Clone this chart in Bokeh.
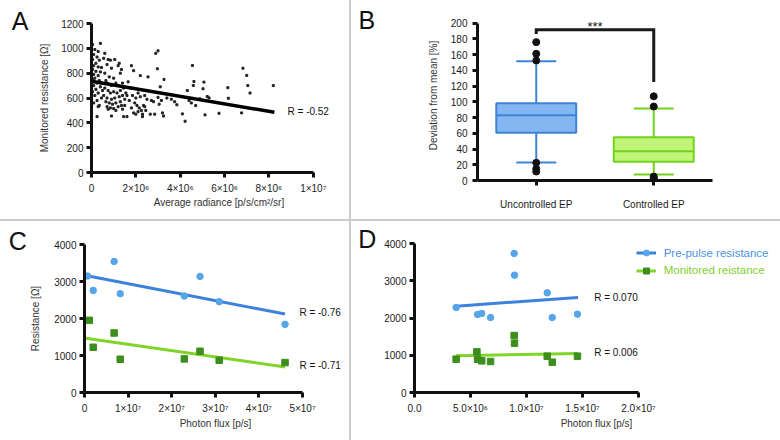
from bokeh.plotting import figure
from bokeh.models import Range1d, FixedTicker, Label, Legend, LegendItem, Spacer, Div
from bokeh.layouts import row, column
from bokeh.embed import file_html
from bokeh.resources import INLINE

FONT = "Liberation Sans"

# ---------------- Panel A data (radiance in units of 1e6 p/s/cm2/sr) ----------------
a_radiance_e6 = [0.05, 0.40, 0.15, 0.30, 0.10, 0.25, 0.05, 0.35, 0.20, 0.10, 0.30, 0.45, 0.05, 0.20,
                 0.40, 0.10, 0.30, 0.15, 0.05, 0.35, 0.25, 0.10, 0.40, 0.20, 0.05, 0.30, 0.15, 0.45,
                 0.25, 0.10, 0.35, 0.30, 0.25, 0.50, 0.45,
                 0.60, 0.55, 0.75, 0.85, 0.70, 0.90, 0.60, 0.80, 1.00, 1.05, 1.20, 1.25, 1.35, 1.30,
                 0.65, 0.70, 0.90, 1.10, 1.20, 1.40, 0.60, 0.75, 0.85, 1.00, 1.15, 1.30, 1.45, 0.55,
                 0.70, 0.90, 1.05, 1.25, 1.40, 0.65, 0.80, 0.95, 1.10, 1.30, 1.50, 0.70, 0.85, 1.00,
                 1.20, 1.35, 0.75, 1.10, 1.40, 0.90, 1.45, 1.55, 1.50, 1.60,
                 1.80, 1.90, 1.65, 1.75, 1.85, 2.00, 2.10, 2.20, 1.70, 1.95, 2.05, 2.15, 2.25, 2.35,
                 1.80, 1.90, 2.00, 2.10, 2.30, 2.45, 2.20, 2.55, 2.40, 2.50, 2.30, 1.60, 2.40,
                 2.90, 3.00, 2.97, 2.70, 2.80, 2.65, 2.85, 3.10, 3.27, 3.15, 3.20, 3.25, 3.05, 3.40,
                 3.60, 3.75, 3.85, 3.00,
                 4.10, 4.22, 4.32, 4.40, 4.55, 4.62, 4.59, 4.70, 4.90, 5.03, 5.07, 5.12, 5.22, 5.30,
                 5.75, 6.15, 6.17, 6.77, 6.83, 7.00, 7.05, 7.15, 8.20, 4.50]
a_resistance = [1030, 1040, 990, 975, 950, 930, 910, 905, 880, 860, 850, 845, 830, 815,
                810, 790, 780, 760, 745, 740, 720, 700, 690, 670, 650, 640, 620, 600,
                580, 560, 540, 530, 450, 660, 720,
                960, 920, 910, 905, 870, 840, 800, 770, 760, 910, 860, 880, 830, 800,
                740, 720, 700, 720, 700, 720, 680, 660, 640, 650, 640, 660, 680, 620,
                600, 590, 600, 610, 620, 570, 560, 550, 560, 570, 590, 530, 520, 515,
                530, 540, 510, 500, 510, 455, 450, 640, 540, 620,
                860, 820, 730, 680, 620, 600, 640, 610, 580, 560, 540, 520, 500, 540,
                520, 480, 470, 490, 470, 500, 780, 770, 620, 590, 450, 450, 530,
                960, 980, 835, 580, 570, 470, 470, 690, 750, 580, 480, 455, 550, 600,
                590, 570, 545, 605,
                472, 413, 660, 580, 862, 733, 701, 539, 593, 674, 728, 464, 612, 601,
                477, 683, 598, 480, 840, 782, 700, 640, 700, 560]
a_fit_radiance_e6 = [0.0, 8.25]
a_fit_resistance = [735, 485]
a_r_text = "R = -0.52"
a_xticks = [0, 2, 4, 6, 8, 10]
a_xlabels = ["0", "2×10⁶", "4×10⁶", "6×10⁶", "8×10⁶", "1×10⁷"]
a_yticks = [0, 200, 400, 600, 800, 1000, 1200]

# ---------------- Panel B data ----------------
b_groups = ["Uncontrolled EP", "Controlled EP"]
b_pos = [0.5, 1.5]
b_q1 = [60.6, 23.7]
b_median = [83.0, 37.3]
b_q3 = [98.3, 55.0]
b_whisk_lo = [22.9, 7.6]
b_whisk_hi = [151.5, 91.5]
b_out_pos = [0.5, 0.5, 0.5, 0.5, 0.5, 0.5, 1.5, 1.5, 1.5, 1.5]
b_out_value = [175.8, 161.0, 152.5, 22.5, 14.8, 11.4, 107.0, 94.0, 5.0, 3.0]
b_fill = ["#84b6f0", "#c0f57a"]
b_edge = ["#3d84d8", "#72d21c"]
b_yticks = [0, 20, 40, 60, 80, 100, 120, 140, 160, 180, 200]
b_bracket_y = [186, 191.5, 191.5, 125]

# ---------------- Panel C data (flux in units of 1e7 p/s) ----------------
c_flux_pre_e7 = [0.07, 0.20, 0.68, 0.82, 2.29, 2.65, 3.09, 4.60]
c_prepulse = [3146, 2760, 3542, 2670, 2607, 3137, 2454, 1843]
c_flux_mon_e7 = [0.11, 0.20, 0.68, 0.82, 2.29, 2.65, 3.09, 4.60]
c_monitored = [1950, 1222, 1609, 899, 908, 1115, 872, 809]
c_fit_flux_e7 = [0.03, 4.60]
c_fit_prepulse = [3160, 2121]
c_fit_monitored = [1465, 692]
c_r_texts = ["R = -0.76", "R = -0.71"]
c_r_y = [2174, 717]
c_xticks = [0, 1, 2, 3, 4, 5]
c_xlabels = ["0", "1×10⁷", "2×10⁷", "3×10⁷", "4×10⁷", "5×10⁷"]
res_yticks = [0, 1000, 2000, 3000, 4000]

# ---------------- Panel D data (flux in units of 1e6 p/s) ----------------
d_flux_pre_e6 = [3.72, 5.63, 6.00, 6.79, 8.90, 8.93, 11.85, 12.30, 14.55]
d_prepulse = [2282, 2094, 2121, 2013, 3732, 3150, 2676, 2013, 2103]
d_flux_mon_e6 = [3.72, 5.57, 5.63, 6.00, 6.79, 8.90, 8.93, 11.85, 12.30, 14.55]
d_monitored = [895, 1092, 895, 850, 832, 1530, 1324, 975, 814, 975]
d_fit_flux_e6 = [3.72, 14.60]
d_fit_prepulse = [2318, 2550]
d_fit_monitored = [984, 1047]
d_r_texts = ["R = 0.070", "R = 0.006"]
d_r_y = [2550, 1063]
d_xticks = [0, 5, 10, 15, 20]
d_xlabels = ["0.0", "5.0×10⁶", "1.0×10⁷", "1.5×10⁷", "2.0×10⁷"]
legend_labels = ["Pre-pulse resistance", "Monitored reistance"]

BLUE_LINE = "#3b82db"
BLUE_PT = "#56a4ea"
GREEN_LINE = "#80d42a"
GREEN_PT = "#3e8e1e"
BLUE_TXT = "#4a92e4"
GREEN_TXT = "#7fcf2e"
AXIS = "#111111"


def make_fig(w, h, left, right, top, bottom, xr, yr):
    p = figure(width=w, height=h, x_range=xr, y_range=yr, output_backend="svg",
               toolbar_location=None, min_border_left=left, min_border_right=right,
               min_border_top=top, min_border_bottom=bottom)
    p.frame_align = False
    p.xgrid.visible = False
    p.ygrid.visible = False
    p.outline_line_color = None
    p.background_fill_color = "white"
    p.border_fill_color = "white"
    for ax in list(p.xaxis) + list(p.yaxis):
        ax.axis_line_width = 3
        ax.axis_line_color = AXIS
        ax.major_tick_line_width = 3
        ax.major_tick_line_color = AXIS
        ax.major_tick_out = 5
        ax.major_tick_in = 0
        ax.minor_tick_line_color = None
        ax.major_label_text_font = FONT
        ax.major_label_text_font_size = "10px"
        ax.major_label_text_color = "#1a1a1a"
        ax.axis_label_text_font = FONT
        ax.axis_label_text_font_size = "10px"
        ax.axis_label_text_font_style = "normal"
        ax.axis_label_text_color = "#333333"
    return p


def add_text(p, **kw):
    kw.setdefault("text_font", FONT)
    kw.setdefault("text_color", "#111111")
    p.add_layout(Label(**kw))


def letter_div(letter, w, h, left, top):
    html = ('<div style="display:block; margin:0; padding:0; position:relative; '
            f'left:{left}px; top:{top}px; font-family:\'{FONT}\'; font-size:25px; '
            f'line-height:25px; color:#111111;">{letter}</div>')
    return Div(text=html, width=w, height=h, styles={"margin": "0", "padding": "0"})


# ---------------- Panel A ----------------
pA = make_fig(319, 219, 61, 3, 23, 47, Range1d(0, 11.5), Range1d(0, 1200))
pA.xaxis.ticker = FixedTicker(ticks=a_xticks)
pA.xaxis.bounds = (0, 10)
pA.xaxis.major_label_overrides = dict(zip(a_xticks, a_xlabels))
pA.yaxis.ticker = FixedTicker(ticks=a_yticks)
pA.xaxis.axis_label = "Average radiance [p/s/cm²/sr]"
pA.yaxis.axis_label = "Monitored resistance [Ω]"
pA.xaxis.major_label_standoff = 5
pA.xaxis.axis_label_standoff = 0
pA.yaxis.major_label_standoff = 3
pA.yaxis.axis_label_standoff = 8
pA.scatter(a_radiance_e6, a_resistance, marker="square", size=2, color="#222222")
pA.line(a_fit_radiance_e6, a_fit_resistance, line_width=3.5, color="#000000")
add_text(pA, x=8.84, y=491, text=a_r_text, text_font_size="10px", text_baseline="middle")

# ---------------- Panel B ----------------
pB = make_fig(395, 219, 92, 68, 10, 39, Range1d(0, 2), Range1d(0, 216))
pB.xaxis.ticker = FixedTicker(ticks=b_pos)
pB.xaxis.major_label_overrides = dict(zip(b_pos, b_groups))
pB.xaxis.major_label_standoff = 13
pB.yaxis.ticker = FixedTicker(ticks=b_yticks)
pB.yaxis.bounds = (0, 200)
pB.yaxis.axis_label = "Deviation from mean [%]"
pB.yaxis.major_label_standoff = 5
pB.yaxis.axis_label_standoff = 9
for i in range(2):
    c = b_pos[i]
    pB.segment([c, c], [b_q3[i], b_q1[i]], [c, c], [b_whisk_hi[i], b_whisk_lo[i]],
               line_color=b_edge[i], line_width=2)
    pB.segment([c - 0.17, c - 0.17], [b_whisk_hi[i], b_whisk_lo[i]],
               [c + 0.17, c + 0.17], [b_whisk_hi[i], b_whisk_lo[i]],
               line_color=b_edge[i], line_width=2)
    pB.vbar(x=[c], width=0.68, bottom=[b_q1[i]], top=[b_q3[i]], fill_color=b_fill[i],
            line_color=b_edge[i], line_width=2)
    pB.segment([c - 0.34], [b_median[i]], [c + 0.34], [b_median[i]],
               line_color=b_edge[i], line_width=2)
pB.scatter(b_out_pos, b_out_value, size=7, color="#111111")
pB.line([b_pos[0], b_pos[0], b_pos[1], b_pos[1]], b_bracket_y, line_width=3,
        color="#1a1a1a", line_join="miter")
add_text(pB, x=1.0, y=196, text="***", text_font_size="13px", text_align="center",
         text_baseline="alphabetic")

# ---------------- Panel C ----------------
pC = make_fig(322, 219, 52, 3, 23, 48, Range1d(0, 6.01), Range1d(0, 4000))
pC.xaxis.ticker = FixedTicker(ticks=c_xticks)
pC.xaxis.bounds = (0, 5)
pC.xaxis.major_label_overrides = dict(zip(c_xticks, c_xlabels))
pC.yaxis.ticker = FixedTicker(ticks=res_yticks)
pC.xaxis.axis_label = "Photon flux [p/s]"
pC.yaxis.axis_label = "Resistance [Ω]"
pC.xaxis.major_label_standoff = 5
pC.xaxis.axis_label_standoff = 1
pC.yaxis.major_label_standoff = 3
pC.yaxis.axis_label_standoff = 10
pC.line(c_fit_flux_e7, c_fit_prepulse, line_width=3, color=BLUE_LINE)
pC.line(c_fit_flux_e7, c_fit_monitored, line_width=3, color=GREEN_LINE)
pC.scatter(c_flux_pre_e7, c_prepulse, marker="circle", size=6.5, color=BLUE_PT)
pC.scatter(c_flux_mon_e7, c_monitored, marker="square", size=6.5, color=GREEN_PT)
for t, yv in zip(c_r_texts, c_r_y):
    add_text(pC, x=4.93, y=yv, text=t, text_font_size="10px", text_baseline="middle")

# ---------------- Panel D ----------------
pD = make_fig(399, 219, 33, 2, 22, 48, Range1d(0, 32.5), Range1d(0, 4000))
pD.xaxis.ticker = FixedTicker(ticks=d_xticks)
pD.xaxis.bounds = (0, 20)
pD.xaxis.major_label_overrides = dict(zip(d_xticks, d_xlabels))
pD.yaxis.ticker = FixedTicker(ticks=res_yticks)
pD.xaxis.axis_label = "Photon flux [p/s]"
pD.xaxis.major_label_standoff = 5
pD.xaxis.axis_label_standoff = 1
pD.yaxis.major_label_standoff = 3
lb = pD.line(d_fit_flux_e6, d_fit_prepulse, line_width=3, color=BLUE_LINE)
lg = pD.line(d_fit_flux_e6, d_fit_monitored, line_width=3, color=GREEN_LINE)
sb = pD.scatter(d_flux_pre_e6, d_prepulse, marker="circle", size=6.5, color=BLUE_PT)
sg = pD.scatter(d_flux_mon_e6, d_monitored, marker="square", size=6.5, color=GREEN_PT)
for t, yv in zip(d_r_texts, d_r_y):
    add_text(pD, x=16.04, y=yv, text=t, text_font_size="10px", text_baseline="middle")
for lbl, rends, col, vy in [(legend_labels[0], [lb, sb], BLUE_TXT, 131.8),
                            (legend_labels[1], [lg, sg], GREEN_TXT, 114.1)]:
    leg = Legend(items=[LegendItem(label=lbl, renderers=rends)], location=(221.7, vy),
                 padding=0, margin=0, spacing=0, glyph_width=20, glyph_height=15,
                 label_standoff=8, label_text_font=FONT, label_text_font_size="11.5px",
                 label_text_color=col, border_line_color=None, background_fill_alpha=0)
    pD.add_layout(leg)

SEP = "#cccccc"
dA = letter_div("A", 30, 219, 11.7, 9.0)
dB = letter_div("B", 34, 219, 7.5, 7.8)
dC = letter_div("C", 27, 219, 8.8, 8.2)
dD = letter_div("D", 30, 219, 7.2, 6.1)
vs1 = Spacer(width=2, height=219, styles={"background-color": SEP})
vs2 = Spacer(width=2, height=219, styles={"background-color": SEP})
hs = Spacer(width=780, height=2, styles={"background-color": SEP})

layout = column(row(dA, pA, vs1, dB, pB), hs, row(dC, pC, vs2, dD, pD))

open("out.html", "w").write(file_html(layout, INLINE))
